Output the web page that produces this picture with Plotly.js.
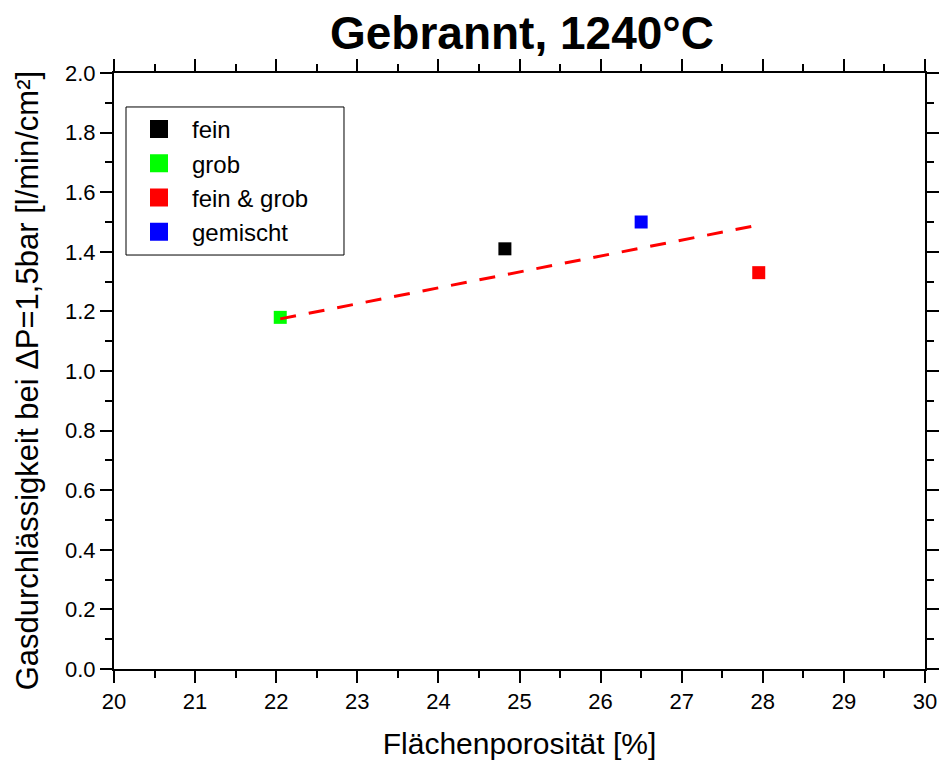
<!DOCTYPE html>
<html>
<head>
<meta charset="utf-8">
<script src="https://cdn.plot.ly/plotly-3.0.1.min.js"></script>
<style>
  html, body { margin: 0; padding: 0; background: #ffffff; }
  #chart { width: 940px; height: 760px; }
</style>
</head>
<body>
<div id="chart"></div>
<script>
// Sample groups (Flächenporosität in %, Gasdurchlässigkeit in l/min/cm²)
const groupNames = ['fein', 'grob', 'fein & grob', 'gemischt'];
const groupColors = ['#000000', '#00ff00', '#ff0000', '#0000ff'];
const porosity = [24.82, 22.05, 27.95, 26.5];
const permeability = [1.41, 1.18, 1.33, 1.50];

// Linear trend line end points
const trendX = [22.05, 27.95];
const trendY = [1.175, 1.49];

// Axis ticks
const xTicks = [20, 21, 22, 23, 24, 25, 26, 27, 28, 29, 30];
const yTicks = [0.0, 0.2, 0.4, 0.6, 0.8, 1.0, 1.2, 1.4, 1.6, 1.8, 2.0];

const FONT = 'Liberation Sans, Arial, Helvetica, sans-serif';

// Data points (legend entries are drawn by separate, larger swatches)
const traces = groupNames.map((name, i) => ({
  type: 'scatter', mode: 'markers', name: name,
  x: [porosity[i]], y: [permeability[i]],
  marker: { symbol: 'square', size: 13, color: groupColors[i] },
  showlegend: false, cliponaxis: false
}));

// Legend swatches
groupNames.forEach((name, i) => {
  traces.push({
    type: 'scatter', mode: 'markers', name: name,
    x: [null], y: [null],
    marker: { symbol: 'square', size: 16, color: groupColors[i], line: { width: 2, color: groupColors[i] } },
    showlegend: true
  });
});

// Trend line
traces.push({
  type: 'scatter', mode: 'lines',
  x: trendX, y: trendY,
  line: { color: '#ff0000', width: 3, dash: '16px,13px' },
  showlegend: false
});

const baseAxis = {
  showgrid: false, zeroline: false, showline: true, mirror: 'ticks',
  linecolor: '#000000', linewidth: 2,
  tickcolor: '#000000', tickwidth: 2, ticklen: 12,
  tickfont: { family: FONT, size: 22, color: '#000000' }
};

const layout = {
  width: 940, height: 760,
  margin: { l: 114, r: 15, t: 73, b: 91 },
  paper_bgcolor: '#ffffff',
  plot_bgcolor: '#ffffff',
  font: { family: FONT, color: '#000000' },
  title: {
    text: '<b>Gebrannt, 1240°C</b>',
    font: { family: FONT, size: 46, color: '#000000' },
    x: 0.503, xanchor: 'center', xref: 'paper',
    y: 0.957, yref: 'container', yanchor: 'middle'
  },
  xaxis: Object.assign({}, baseAxis, {
    range: [20, 30], tickmode: 'array', tickvals: xTicks, ticktext: xTicks.map(String), ticks: 'outside',
    minor: { dtick: 0.5, tick0: 20, ticks: 'outside', ticklen: 7, tickwidth: 2, tickcolor: '#000000', showgrid: false },
    title: { text: 'Flächenporosität [%]', font: { family: FONT, size: 30, color: '#000000' }, standoff: 22 }
  }),
  yaxis: Object.assign({}, baseAxis, {
    range: [0, 2], tickmode: 'array', tickvals: yTicks, ticktext: yTicks.map(v => v.toFixed(1)), ticks: 'outside',
    minor: { dtick: 0.1, tick0: 0, ticks: 'outside', ticklen: 7, tickwidth: 2, tickcolor: '#000000', showgrid: false }
  }),
  showlegend: true,
  legend: {
    x: 0.0148, xanchor: 'left', y: 0.943, yanchor: 'top',
    bgcolor: 'rgba(0,0,0,0)', borderwidth: 0, itemwidth: 56,
    font: { family: FONT, size: 24, color: '#000000' },
    traceorder: 'normal'
  },
  // Y axis title, placed as an annotation
  annotations: [{
    text: 'Gasdurchlässigkeit bei ΔP=1,5bar [l/min/cm²]',
    xref: 'paper', yref: 'paper', x: -0.107, y: 0.483,
    xanchor: 'center', yanchor: 'middle', textangle: -90, showarrow: false,
    font: { family: FONT, size: 31, color: '#000000' }
  }],
  // Legend frame
  shapes: [{
    type: 'rect', xref: 'paper', yref: 'paper',
    x0: 0.0148, x1: 0.2836, y0: 0.6946, y1: 0.943,
    line: { color: '#000000', width: 1 }, fillcolor: 'rgba(0,0,0,0)', layer: 'above'
  }]
};

Plotly.newPlot('chart', traces, layout, { displayModeBar: false, staticPlot: true });
</script>
</body>
</html>
